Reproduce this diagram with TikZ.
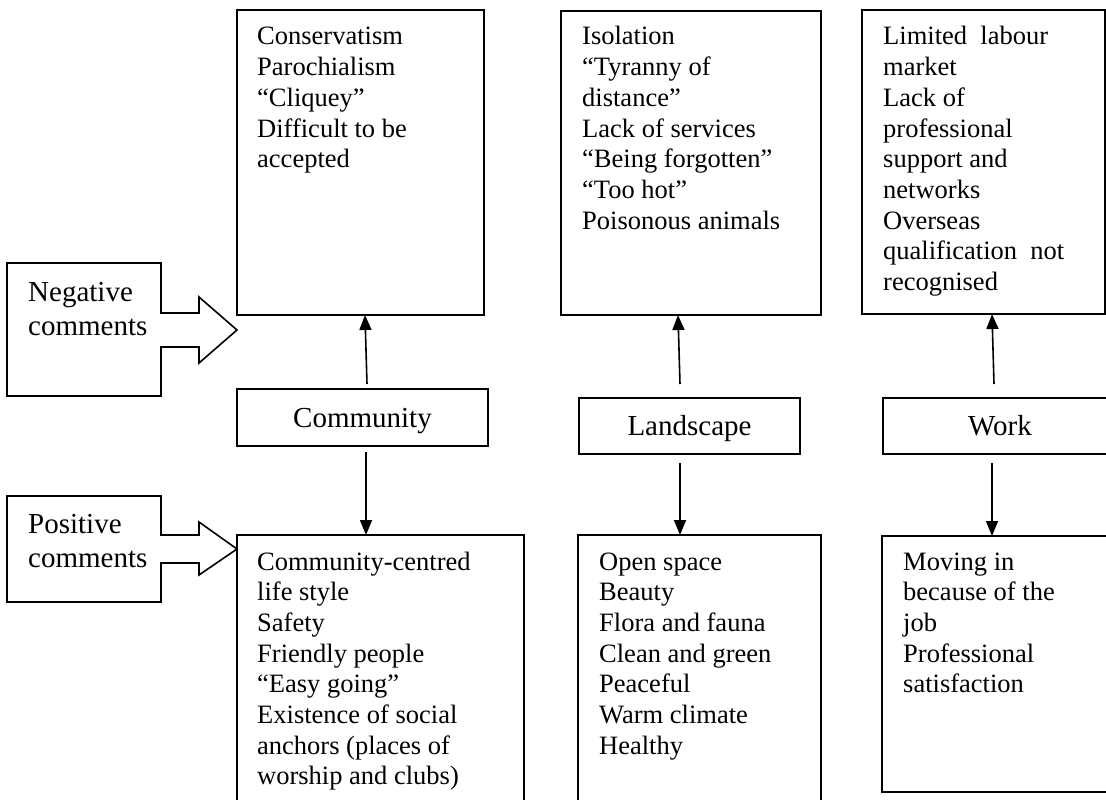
\documentclass[tikz,border=0pt]{standalone}
\usepackage{fontspec}
\setmainfont{Liberation Serif}
\usetikzlibrary{arrows.meta}
\begin{document}
\begin{tikzpicture}[x=1pt,y=-1pt,
  frame/.style={draw, line width=1.6pt, inner sep=0pt, outer sep=0pt, anchor=north west},
  body/.style={inner sep=0pt, anchor=base west, font=\fontsize{26.5}{30.7}\selectfont},
  lbl/.style={inner sep=0pt, anchor=base, font=\fontsize{29}{35}\selectfont},
  side/.style={inner sep=0pt, anchor=base west, font=\fontsize{29}{34.5}\selectfont},
  arr/.style={line width=1.6pt, -{Triangle[length=15pt,width=12pt]}},
  block/.style={draw, line width=1.6pt, line join=miter}]
\useasboundingbox (0,0) rectangle (1106,800);
\clip (0,0) rectangle (1106,800);

% top (negative) boxes
\node[frame, minimum width=247pt, minimum height=305pt] (ctop) at (237,10) {};
\node[frame, minimum width=260pt, minimum height=304pt] (ltop) at (561,11) {};
\node[frame, minimum width=243pt, minimum height=304pt] (wtop) at (862,10) {};
% label boxes
\node[frame, minimum width=251pt, minimum height=57pt] (clab) at (237,389) {};
\node[frame, minimum width=221pt, minimum height=56pt] (llab) at (579,398) {};
\node[frame, minimum width=234pt, minimum height=56pt] (wlab) at (883,398) {};
% bottom (positive) boxes
\node[frame, minimum width=287pt, minimum height=300pt] (cbot) at (237,535) {};
\node[frame, minimum width=243pt, minimum height=300pt] (lbot) at (578,535) {};
\node[frame, minimum width=248pt, minimum height=256pt] (wbot) at (882,536) {};

% texts
\node[body] (ctopt) at (257,45) {\parbox[t]{220pt}{Conservatism\\Parochialism\\“Cliquey”\\Difficult to be\\accepted}};
\node[body] (ltopt) at (582,45) {\parbox[t]{235pt}{Isolation\\“Tyranny of\\distance”\\Lack of services\\“Being forgotten”\\“Too hot”\\Poisonous animals}};
\node[body] (wtopt) at (883,45) {\parbox[t]{220pt}{Limited~ labour\\market\\Lack of\\professional\\support and\\networks\\Overseas\\qualification~ not\\recognised}};
\node[body] (cbott) at (257,570) {\parbox[t]{260pt}{Community-centred\\life style\\Safety\\Friendly people\\“Easy going”\\Existence of social\\anchors (places of\\worship and clubs)}};
\node[body] (lbott) at (599,570) {\parbox[t]{220pt}{Open space\\Beauty\\Flora and fauna\\Clean and green\\Peaceful\\Warm climate\\Healthy}};
\node[body] (wbott) at (903,570) {\parbox[t]{200pt}{Moving in\\because of the\\job\\Professional\\satisfaction}};

\node[lbl] (clabt) at (362.5,427) {Community};
\node[lbl] (llabt) at (689.5,435) {Landscape};
\node[lbl] (wlabt) at (1000,435) {Work};

% arrows
\coordinate (cu) at (367,384);
\coordinate (cd) at (366,452);
\coordinate (lu) at (680,384);
\coordinate (ld) at (680,463);
\coordinate (wu) at (994,384);
\coordinate (wd) at (992,463);
\draw[arr] (cu) -- ([xshift=4.5pt]ctop.south);
\draw[arr] (cd) -- (cd |- cbot.north);
\draw[arr] (lu) -- ([xshift=-13pt]ltop.south);
\draw[arr] (ld) -- (ld |- lbot.north);
\draw[arr] (wu) -- ([xshift=8.5pt]wtop.south);
\draw[arr] (wd) -- (wd |- wbot.north);

% block arrows
\draw[block] (161,263) -- (7,263) -- (7,396) -- (161,396) -- (161,347) -- (199,347)
  -- (199,363) -- (237,330) -- (199,297) -- (199,313) -- (161,313) -- cycle;
\node[side] (neg) at (28,301) {\parbox[t]{140pt}{Negative\\comments}};
\draw[block] (161,496) -- (7,496) -- (7,602) -- (161,602) -- (161,563) -- (199,563)
  -- (199,575) -- (237,549) -- (199,522) -- (199,535) -- (161,535) -- cycle;
\node[side] (pos) at (28,533) {\parbox[t]{140pt}{Positive\\comments}};
\end{tikzpicture}
\end{document}
